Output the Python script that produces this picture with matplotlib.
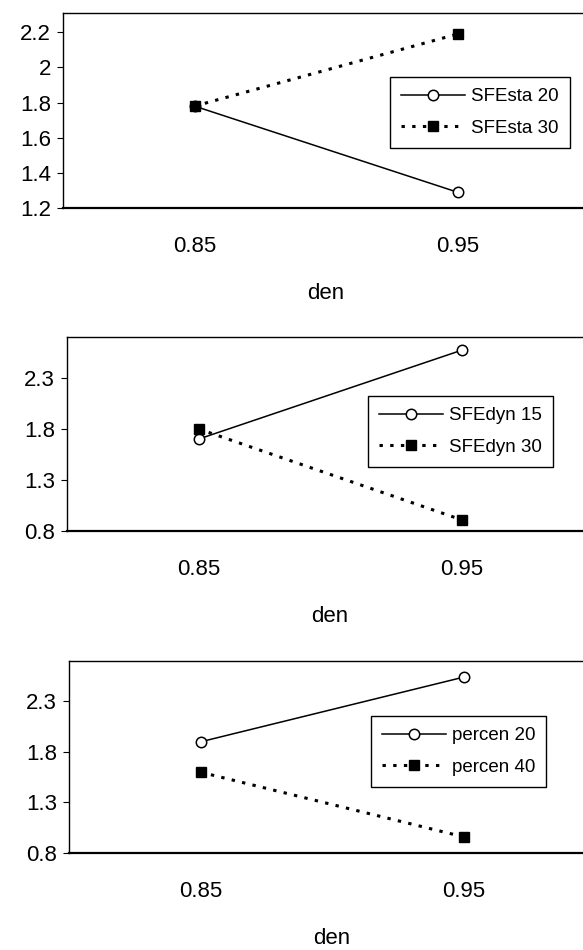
import matplotlib
matplotlib.use('Agg')
import matplotlib.pyplot as plt

plt.rcParams['font.family'] = ['Liberation Sans', 'DejaVu Sans']

categories = ['0.85', '0.95']

sta_20 = [1.78, 1.29]
sta_30 = [1.78, 2.19]
dyn_15 = [1.70, 2.57]
dyn_30 = [1.80, 0.91]
percen_20 = [1.90, 2.54]
percen_40 = [1.60, 0.96]

panels = [
    # (solid series, solid label, dotted series, dotted label, ylim, yticks, yticklabels)
    (sta_20, 'SFEsta 20', sta_30, 'SFEsta 30', (1.2, 2.31),
     [1.2, 1.4, 1.6, 1.8, 2.0, 2.2], ['1.2', '1.4', '1.6', '1.8', '2', '2.2']),
    (dyn_15, 'SFEdyn 15', dyn_30, 'SFEdyn 30', (0.8, 2.7),
     [0.8, 1.3, 1.8, 2.3], ['0.8', '1.3', '1.8', '2.3']),
    (percen_20, 'percen 20', percen_40, 'percen 40', (0.8, 2.7),
     [0.8, 1.3, 1.8, 2.3], ['0.8', '1.3', '1.8', '2.3']),
]

W, H = 583, 950
fig = plt.figure(figsize=(W / 100, H / 100), dpi=100)

# axes boxes in pixels: left, top, bottom (right edge runs off the page)
boxes = [(63, 13, 208), (67, 337, 531), (69, 661, 853)]
legend_corners = [(390, 77), (368, 396), (371, 716)]

x = list(range(len(categories)))

for (solid, solid_lab, dotted, dotted_lab, ylim, yt, ytl), (l, t, b), (lx, ly) in zip(panels, boxes, legend_corners):
    ax = fig.add_axes([l / W, 1 - b / H, 526 / W, (b - t) / H])
    ax.plot(x, solid, color='black', linewidth=1.1, marker='o', markersize=7.5,
            markerfacecolor='white', markeredgecolor='black', markeredgewidth=1.1,
            label=solid_lab, zorder=3)
    ax.plot(x, dotted, color='black', linewidth=2.2, linestyle=(0, (1.1, 2.4)),
            marker='s', markersize=6.5, markerfacecolor='black',
            markeredgecolor='black', label=dotted_lab, zorder=4)

    ax.set_xlim(-0.5, 1.5)
    ax.set_ylim(*ylim)
    ax.set_xticks(x)
    ax.set_xticklabels(categories)
    ax.set_yticks(yt)
    ax.set_yticklabels(ytl)
    ax.tick_params(axis='x', length=0, pad=20, labelsize=16)
    ax.tick_params(axis='y', direction='out', length=4.5, width=0.8, pad=4, labelsize=16)
    ax.set_xlabel('den', fontsize=16, labelpad=19)

    for side in ['top', 'left']:
        ax.spines[side].set_linewidth(1.0)
    ax.spines['bottom'].set_linewidth(1.6)
    ax.spines['right'].set_visible(False)

    leg = ax.legend(loc='upper left', bbox_to_anchor=(lx / W, 1 - ly / H),
                    bbox_transform=fig.transFigure, borderaxespad=0,
                    fancybox=False, framealpha=1, edgecolor='black',
                    fontsize=13.5, handlelength=3.4, handletextpad=0.3,
                    labelspacing=0.75, borderpad=0.6)
    leg.get_frame().set_linewidth(1.0)

fig.savefig('out.png', dpi=100)
